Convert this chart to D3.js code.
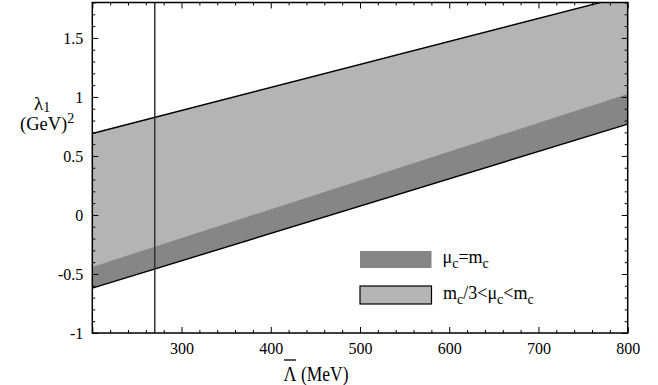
<!DOCTYPE html>
<html><head><meta charset="utf-8">
<script src="https://cdn.jsdelivr.net/npm/d3@7"></script>
<style>body{margin:0;background:#fff}svg{display:block}text{font-family:"Liberation Serif",Tinos,"Times New Roman",serif;fill:#000}</style>
</head><body><svg id="c" width="658" height="385"></svg>
<script>
// Data (x in MeV, y in GeV^2)
const xEnds = [200, 800];
const upperLine = [0.69, 1.86];      // top edge of light band
const darkTop = [-0.44, 1.025];      // top edge of dark band
const lowerLine = [-0.62, 0.77];     // bottom edge of both bands
const lambdaBarLine = 270;
const xTicks = [200, 300, 400, 500, 600, 700, 800];
const xTickLabels = ["", "300", "400", "500", "600", "700", "800"];
const yTicks = [-1, -0.5, 0, 0.5, 1, 1.5];
const yTickLabels = ["-1", "-0.5", "0", "0.5", "1", "1.5"];

const FONT = '"Liberation Serif",Tinos,"Times New Roman",serif';
const svg = d3.select("#c");
const L = 92.3, R = 627.7, T = 2.5, B = 333;
const x = d3.scaleLinear().domain([200, 800]).range([L, R]);
const y = d3.scaleLinear().domain([-1, 1.8]).range([B, T]);

svg.append("defs").append("clipPath").attr("id", "clip").append("rect")
  .attr("x", L).attr("y", T).attr("width", R - L).attr("height", B - T);

const g = svg.append("g").attr("clip-path", "url(#clip)");
const band = (top, bot) => d3.area().x((d, i) => x(xEnds[i])).y0((d, i) => y(bot[i])).y1((d, i) => y(top[i]))(xEnds);
const line = arr => d3.line().x((d, i) => x(xEnds[i])).y((d, i) => y(arr[i]))(xEnds);

g.append("path").attr("d", band(upperLine, lowerLine)).attr("fill", "#b4b4b4");
g.append("path").attr("d", band(darkTop, lowerLine)).attr("fill", "#868686");
g.append("path").attr("d", line(upperLine)).attr("fill", "none").attr("stroke", "#000").attr("stroke-width", 1.4);
g.append("path").attr("d", line(lowerLine)).attr("fill", "none").attr("stroke", "#000").attr("stroke-width", 1.4);
g.append("line").attr("x1", x(lambdaBarLine)).attr("x2", x(lambdaBarLine)).attr("y1", T).attr("y2", B)
  .attr("stroke", "#333").attr("stroke-width", 1.5);

// Axes with inward ticks
const minorX = d3.range(200, 801, 20).filter(v => v % 100 !== 0);
const minorY = d3.range(-10, 18.1, 1).map(v => +(v / 10).toFixed(1)).filter(v => Math.abs(v * 2 - Math.round(v * 2)) > 1e-6);
function addAxis(axisGen, tr) { return svg.append("g").attr("transform", tr).call(axisGen).call(s => s.select(".domain").remove()); }
addAxis(d3.axisBottom(x).tickValues(xTicks).tickSize(-6).tickPadding(10).tickFormat((d, i) => xTickLabels[i]), `translate(0,${B})`);
addAxis(d3.axisBottom(x).tickValues(minorX).tickSize(-3).tickFormat(""), `translate(0,${B})`);
addAxis(d3.axisTop(x).tickValues(xTicks).tickSize(-6).tickFormat(""), `translate(0,${T})`);
addAxis(d3.axisTop(x).tickValues(minorX).tickSize(-3).tickFormat(""), `translate(0,${T})`);
addAxis(d3.axisLeft(y).tickValues(yTicks).tickSize(-6).tickPadding(9).tickFormat((d, i) => yTickLabels[i]), `translate(${L},0)`);
addAxis(d3.axisLeft(y).tickValues(minorY).tickSize(-3).tickFormat(""), `translate(${L},0)`);
addAxis(d3.axisRight(y).tickValues(yTicks).tickSize(-6).tickFormat(""), `translate(${R},0)`);
addAxis(d3.axisRight(y).tickValues(minorY).tickSize(-3).tickFormat(""), `translate(${R},0)`);
svg.selectAll("g").attr("font-family", FONT);
svg.selectAll(".tick line").attr("stroke", "#000");
svg.selectAll(".tick text").style("font-family", FONT).style("font-size", "16px").attr("fill", "#000");

svg.append("rect").attr("x", L).attr("y", T).attr("width", R - L).attr("height", B - T)
  .attr("fill", "none").attr("stroke", "#000").attr("stroke-width", 1.5);

// X axis label (slightly tall glyphs like the reference)
const xg = svg.append("g").attr("transform", "translate(283.5,381) scale(1,1.15)");
const lam = xg.append("text").attr("x", 0).attr("y", 0).style("font-size", "18px").text("Λ");
const lw = lam.node().getComputedTextLength();
svg.append("line").attr("x1", 284).attr("x2", 283 + lw).attr("y1", 360).attr("y2", 360).attr("stroke", "#000").attr("stroke-width", 1.3);
xg.append("text").attr("x", lw).attr("y", 0).style("font-size", "17.5px").text("\u00a0(MeV)");

// Y axis label
const yl1 = svg.append("text").attr("x", 34).attr("y", 110).style("font-size", "19px");
yl1.append("tspan").text("λ");
yl1.append("tspan").attr("dy", 2).style("font-size", "14px").text("1");
const yl2 = svg.append("text").attr("x", 20).attr("y", 130).style("font-size", "18.5px");
yl2.append("tspan").text("(GeV)");
yl2.append("tspan").attr("dy", -7).style("font-size", "14px").text("2");

// Legend
svg.append("rect").attr("x", 360).attr("y", 251).attr("width", 71.5).attr("height", 17).attr("fill", "#868686");
svg.append("rect").attr("x", 360).attr("y", 286).attr("width", 71.5).attr("height", 18).attr("fill", "#b4b4b4").attr("stroke", "#000").attr("stroke-width", 1.2);
const t1 = svg.append("text").attr("x", 442.5).attr("y", 263).style("font-size", "18px");
t1.append("tspan").text("μ");
t1.append("tspan").attr("dy", 5).style("font-size", "14px").text("c");
t1.append("tspan").attr("dy", -5).text("=m");
t1.append("tspan").attr("dy", 5).style("font-size", "14px").text("c");
const t2 = svg.append("text").attr("x", 443).attr("y", 299).style("font-size", "18px");
t2.append("tspan").text("m");
t2.append("tspan").attr("dy", 5).style("font-size", "14px").text("c");
t2.append("tspan").attr("dy", -5).text("/3<μ");
t2.append("tspan").attr("dy", 5).style("font-size", "14px").text("c");
t2.append("tspan").attr("dy", -5).text("<m");
t2.append("tspan").attr("dy", 5).style("font-size", "14px").text("c");
</script></body></html>
